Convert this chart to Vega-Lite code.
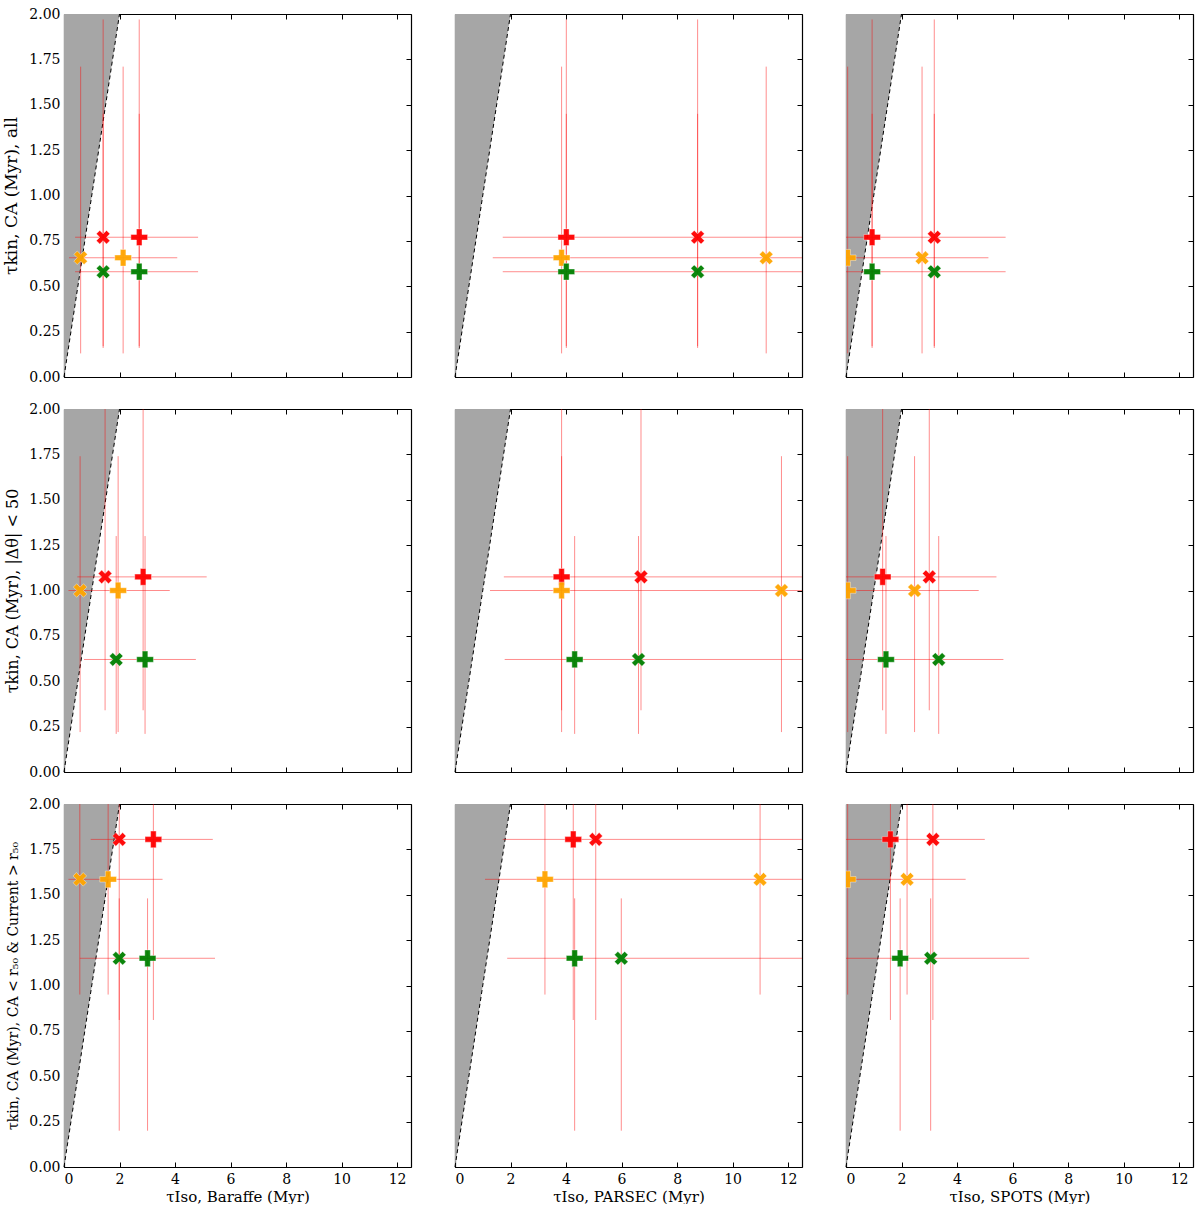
{
"$schema": "https://vega.github.io/schema/vega-lite/v6.json",
"background": "white",
"padding": {"left": 2, "top": 7, "right": 5, "bottom": 0},
"datasets": {
"diag": [{"x": 0, "y": 0, "top": 2}, {"x": 2, "y": 2, "top": 2}],
"pts": [
{"panel":1,"g":"red","m":"X","x":1.41,"y":0.77,"ylo":0.16,"yhi":1.97},
{"panel":1,"g":"red","m":"P","x":2.71,"y":0.77,"xlo":0.40,"xhi":4.83,"ylo":0.16,"yhi":1.97},
{"panel":1,"g":"orange","m":"X","x":0.60,"y":0.657,"ylo":0.13,"yhi":1.71},
{"panel":1,"g":"orange","m":"P","x":2.13,"y":0.657,"xlo":0.18,"xhi":4.08,"ylo":0.13,"yhi":1.71},
{"panel":1,"g":"green","m":"X","x":1.41,"y":0.58,"ylo":0.17,"yhi":1.45},
{"panel":1,"g":"green","m":"P","x":2.71,"y":0.58,"xlo":0.40,"xhi":4.83,"ylo":0.17,"yhi":1.45},
{"panel":2,"g":"red","m":"P","x":4.01,"y":0.77,"xlo":1.72,"xhi":14,"ylo":0.16,"yhi":1.97},
{"panel":2,"g":"red","m":"X","x":8.74,"y":0.77,"ylo":0.16,"yhi":1.97},
{"panel":2,"g":"orange","m":"P","x":3.84,"y":0.657,"xlo":1.36,"xhi":14,"ylo":0.13,"yhi":1.71},
{"panel":2,"g":"orange","m":"X","x":11.21,"y":0.657,"ylo":0.13,"yhi":1.71},
{"panel":2,"g":"green","m":"P","x":4.01,"y":0.58,"xlo":1.72,"xhi":14,"ylo":0.17,"yhi":1.45},
{"panel":2,"g":"green","m":"X","x":8.74,"y":0.58,"ylo":0.17,"yhi":1.45},
{"panel":3,"g":"red","m":"P","x":0.94,"y":0.77,"xlo":-1,"xhi":5.75,"ylo":0.16,"yhi":1.97},
{"panel":3,"g":"red","m":"X","x":3.18,"y":0.77,"ylo":0.16,"yhi":1.97},
{"panel":3,"g":"orange","m":"P","x":0.06,"y":0.657,"xlo":-1,"xhi":5.13,"ylo":0.13,"yhi":1.71},
{"panel":3,"g":"orange","m":"X","x":2.74,"y":0.657,"ylo":0.13,"yhi":1.71},
{"panel":3,"g":"green","m":"P","x":0.94,"y":0.58,"xlo":-1,"xhi":5.75,"ylo":0.17,"yhi":1.45},
{"panel":3,"g":"green","m":"X","x":3.18,"y":0.58,"ylo":0.17,"yhi":1.45},
{"panel":4,"g":"red","m":"X","x":1.48,"y":1.075,"ylo":0.34,"yhi":2.3},
{"panel":4,"g":"red","m":"P","x":2.85,"y":1.075,"xlo":0.48,"xhi":5.14,"ylo":0.34,"yhi":2.3},
{"panel":4,"g":"orange","m":"X","x":0.58,"y":1.0,"ylo":0.22,"yhi":1.74},
{"panel":4,"g":"orange","m":"P","x":1.95,"y":1.0,"xlo":0.16,"xhi":3.81,"ylo":0.22,"yhi":1.74},
{"panel":4,"g":"green","m":"X","x":1.88,"y":0.62,"ylo":0.21,"yhi":1.30},
{"panel":4,"g":"green","m":"P","x":2.92,"y":0.62,"xlo":0.72,"xhi":4.75,"ylo":0.21,"yhi":1.30},
{"panel":5,"g":"red","m":"P","x":3.84,"y":1.075,"xlo":1.76,"xhi":14,"ylo":0.34,"yhi":2.3},
{"panel":5,"g":"red","m":"X","x":6.70,"y":1.075,"ylo":0.34,"yhi":2.3},
{"panel":5,"g":"orange","m":"P","x":3.84,"y":1.0,"xlo":1.26,"xhi":14,"ylo":0.22,"yhi":1.74},
{"panel":5,"g":"orange","m":"X","x":11.76,"y":1.0,"ylo":0.22,"yhi":1.74},
{"panel":5,"g":"green","m":"P","x":4.31,"y":0.62,"xlo":1.79,"xhi":14,"ylo":0.21,"yhi":1.30},
{"panel":5,"g":"green","m":"X","x":6.61,"y":0.62,"ylo":0.21,"yhi":1.30},
{"panel":6,"g":"red","m":"P","x":1.32,"y":1.075,"xlo":-1,"xhi":5.42,"ylo":0.34,"yhi":2.3},
{"panel":6,"g":"red","m":"X","x":3.00,"y":1.075,"ylo":0.34,"yhi":2.3},
{"panel":6,"g":"orange","m":"P","x":0.06,"y":1.0,"xlo":-1,"xhi":4.78,"ylo":0.22,"yhi":1.74},
{"panel":6,"g":"orange","m":"X","x":2.47,"y":1.0,"ylo":0.22,"yhi":1.74},
{"panel":6,"g":"green","m":"P","x":1.44,"y":0.62,"xlo":-1,"xhi":5.67,"ylo":0.21,"yhi":1.30},
{"panel":6,"g":"green","m":"X","x":3.34,"y":0.62,"ylo":0.21,"yhi":1.30},
{"panel":7,"g":"red","m":"X","x":1.99,"y":1.805,"ylo":0.81,"yhi":2.3},
{"panel":7,"g":"red","m":"P","x":3.22,"y":1.805,"xlo":0.96,"xhi":5.36,"ylo":0.81,"yhi":2.3},
{"panel":7,"g":"orange","m":"X","x":0.57,"y":1.585,"ylo":0.95,"yhi":2.3},
{"panel":7,"g":"orange","m":"P","x":1.59,"y":1.585,"xlo":0.16,"xhi":3.55,"ylo":0.95,"yhi":2.3},
{"panel":7,"g":"green","m":"X","x":1.99,"y":1.15,"ylo":0.20,"yhi":1.48},
{"panel":7,"g":"green","m":"P","x":3.01,"y":1.15,"xlo":0.57,"xhi":5.44,"ylo":0.20,"yhi":1.48},
{"panel":8,"g":"red","m":"P","x":4.26,"y":1.805,"xlo":1.72,"xhi":14,"ylo":0.81,"yhi":2.3},
{"panel":8,"g":"red","m":"X","x":5.07,"y":1.805,"ylo":0.81,"yhi":2.3},
{"panel":8,"g":"orange","m":"P","x":3.24,"y":1.585,"xlo":1.08,"xhi":14,"ylo":0.95,"yhi":2.3},
{"panel":8,"g":"orange","m":"X","x":10.99,"y":1.585,"ylo":0.95,"yhi":2.3},
{"panel":8,"g":"green","m":"P","x":4.31,"y":1.15,"xlo":1.88,"xhi":14,"ylo":0.20,"yhi":1.48},
{"panel":8,"g":"green","m":"X","x":5.99,"y":1.15,"ylo":0.20,"yhi":1.48},
{"panel":9,"g":"red","m":"P","x":1.60,"y":1.805,"xlo":-1,"xhi":5.0,"ylo":0.81,"yhi":2.3},
{"panel":9,"g":"red","m":"X","x":3.13,"y":1.805,"ylo":0.81,"yhi":2.3},
{"panel":9,"g":"orange","m":"P","x":0.06,"y":1.585,"xlo":-1,"xhi":4.31,"ylo":0.95,"yhi":2.3},
{"panel":9,"g":"orange","m":"X","x":2.20,"y":1.585,"ylo":0.95,"yhi":2.3},
{"panel":9,"g":"green","m":"P","x":1.95,"y":1.15,"xlo":-1,"xhi":6.6,"ylo":0.20,"yhi":1.48},
{"panel":9,"g":"green","m":"X","x":3.05,"y":1.15,"ylo":0.20,"yhi":1.48}
]
},
"spacing": 18,
"vconcat": [
{"hconcat": [
{"width":347,"height":363,"layer":[
{"data":{"name":"diag"},"mark":{"type":"area","color":"#a6a6a6"},"encoding":{"x":{"field":"x","type":"quantitative","scale":{"domain":[0,12.5],"nice":false,"zero":false},"axis":{"orient":"bottom","values":[0,2,4,6,8,10,12],"labels":false,"title":null}},"y":{"field":"y","type":"quantitative","scale":{"domain":[0,2],"nice":false,"zero":false},"axis":{"orient":"left","values":[0,0.25,0.5,0.75,1,1.25,1.5,1.75,2],"format":".2f","title":"τkin, CA (Myr), all","titleFontSize":17}},"y2":{"field":"top"}}},
{"data":{"name":"diag"},"mark":{"type":"line","color":"black","strokeDash":[4,3],"strokeWidth":1},"encoding":{"x":{"field":"x","type":"quantitative","scale":{"domain":[0,12.5]},"axis":{"orient":"top","values":[0,2,4,6,8,10,12],"labels":false,"title":null}},"y":{"field":"y","type":"quantitative","scale":{"domain":[0,2]},"axis":{"orient":"right","values":[0,0.25,0.5,0.75,1,1.25,1.5,1.75,2],"labels":false,"title":null}}}},
{"data":{"name":"pts"},"transform":[{"filter":"datum.panel==1 && isValid(datum.xlo)"}],"mark":{"type":"rule","color":"red","opacity":0.45,"strokeWidth":1,"clip":true},"encoding":{"x":{"field":"xlo","type":"quantitative","scale":{"domain":[0,12.5]},"axis":null},"x2":{"field":"xhi"},"y":{"field":"y","type":"quantitative","scale":{"domain":[0,2]},"axis":null}}},
{"data":{"name":"pts"},"transform":[{"filter":"datum.panel==1"}],"mark":{"type":"rule","color":"red","opacity":0.45,"strokeWidth":1,"clip":true},"encoding":{"x":{"field":"x","type":"quantitative","scale":{"domain":[0,12.5]},"axis":null},"y":{"field":"ylo","type":"quantitative","scale":{"domain":[0,2]},"axis":null},"y2":{"field":"yhi"}}},
{"data":{"name":"pts"},"transform":[{"filter":"datum.panel==1"}],"mark":{"type":"point","filled":true,"clip":true,"opacity":0.95,"stroke":"white","strokeWidth":0.8,"strokeOpacity":0.5},"encoding":{"x":{"field":"x","type":"quantitative","scale":{"domain":[0,12.5]},"axis":null},"y":{"field":"y","type":"quantitative","scale":{"domain":[0,2]},"axis":null},"color":{"field":"g","type":"nominal","scale":{"domain":["red","orange","green"],"range":["#ff0000","#ffa500","#008000"]},"legend":null},"shape":{"field":"m","type":"nominal","scale":{"domain":["X","P"],"range":["M0.5,-1L0,-0.5L-0.5,-1L-1,-0.5L-0.5,0L-1,0.5L-0.5,1L0,0.5L0.5,1L1,0.5L0.5,0L1,-0.5Z","M-0.333,-1L0.333,-1L0.333,-0.333L1,-0.333L1,0.333L0.333,0.333L0.333,1L-0.333,1L-0.333,0.333L-1,0.333L-1,-0.333L-0.333,-0.333Z"]},"legend":null},"size":{"field":"m","type":"ordinal","scale":{"domain":["X","P"],"range":[185,280]},"legend":null}}}
],"resolve":{"axis":{"x":"independent","y":"independent"}}},
{"width":347,"height":363,"layer":[
{"data":{"name":"diag"},"mark":{"type":"area","color":"#a6a6a6"},"encoding":{"x":{"field":"x","type":"quantitative","scale":{"domain":[0,12.5],"nice":false,"zero":false},"axis":{"orient":"bottom","values":[0,2,4,6,8,10,12],"labels":false,"title":null}},"y":{"field":"y","type":"quantitative","scale":{"domain":[0,2],"nice":false,"zero":false},"axis":{"orient":"left","values":[0,0.25,0.5,0.75,1,1.25,1.5,1.75,2],"labels":false,"title":null}},"y2":{"field":"top"}}},
{"data":{"name":"diag"},"mark":{"type":"line","color":"black","strokeDash":[4,3],"strokeWidth":1},"encoding":{"x":{"field":"x","type":"quantitative","scale":{"domain":[0,12.5]},"axis":{"orient":"top","values":[0,2,4,6,8,10,12],"labels":false,"title":null}},"y":{"field":"y","type":"quantitative","scale":{"domain":[0,2]},"axis":{"orient":"right","values":[0,0.25,0.5,0.75,1,1.25,1.5,1.75,2],"labels":false,"title":null}}}},
{"data":{"name":"pts"},"transform":[{"filter":"datum.panel==2 && isValid(datum.xlo)"}],"mark":{"type":"rule","color":"red","opacity":0.45,"strokeWidth":1,"clip":true},"encoding":{"x":{"field":"xlo","type":"quantitative","scale":{"domain":[0,12.5]},"axis":null},"x2":{"field":"xhi"},"y":{"field":"y","type":"quantitative","scale":{"domain":[0,2]},"axis":null}}},
{"data":{"name":"pts"},"transform":[{"filter":"datum.panel==2"}],"mark":{"type":"rule","color":"red","opacity":0.45,"strokeWidth":1,"clip":true},"encoding":{"x":{"field":"x","type":"quantitative","scale":{"domain":[0,12.5]},"axis":null},"y":{"field":"ylo","type":"quantitative","scale":{"domain":[0,2]},"axis":null},"y2":{"field":"yhi"}}},
{"data":{"name":"pts"},"transform":[{"filter":"datum.panel==2"}],"mark":{"type":"point","filled":true,"clip":true,"opacity":0.95,"stroke":"white","strokeWidth":0.8,"strokeOpacity":0.5},"encoding":{"x":{"field":"x","type":"quantitative","scale":{"domain":[0,12.5]},"axis":null},"y":{"field":"y","type":"quantitative","scale":{"domain":[0,2]},"axis":null},"color":{"field":"g","type":"nominal","scale":{"domain":["red","orange","green"],"range":["#ff0000","#ffa500","#008000"]},"legend":null},"shape":{"field":"m","type":"nominal","scale":{"domain":["X","P"],"range":["M0.5,-1L0,-0.5L-0.5,-1L-1,-0.5L-0.5,0L-1,0.5L-0.5,1L0,0.5L0.5,1L1,0.5L0.5,0L1,-0.5Z","M-0.333,-1L0.333,-1L0.333,-0.333L1,-0.333L1,0.333L0.333,0.333L0.333,1L-0.333,1L-0.333,0.333L-1,0.333L-1,-0.333L-0.333,-0.333Z"]},"legend":null},"size":{"field":"m","type":"ordinal","scale":{"domain":["X","P"],"range":[185,280]},"legend":null}}}
],"resolve":{"axis":{"x":"independent","y":"independent"}}},
{"width":347,"height":363,"layer":[
{"data":{"name":"diag"},"mark":{"type":"area","color":"#a6a6a6"},"encoding":{"x":{"field":"x","type":"quantitative","scale":{"domain":[0,12.5],"nice":false,"zero":false},"axis":{"orient":"bottom","values":[0,2,4,6,8,10,12],"labels":false,"title":null}},"y":{"field":"y","type":"quantitative","scale":{"domain":[0,2],"nice":false,"zero":false},"axis":{"orient":"left","values":[0,0.25,0.5,0.75,1,1.25,1.5,1.75,2],"labels":false,"title":null}},"y2":{"field":"top"}}},
{"data":{"name":"diag"},"mark":{"type":"line","color":"black","strokeDash":[4,3],"strokeWidth":1},"encoding":{"x":{"field":"x","type":"quantitative","scale":{"domain":[0,12.5]},"axis":{"orient":"top","values":[0,2,4,6,8,10,12],"labels":false,"title":null}},"y":{"field":"y","type":"quantitative","scale":{"domain":[0,2]},"axis":{"orient":"right","values":[0,0.25,0.5,0.75,1,1.25,1.5,1.75,2],"labels":false,"title":null}}}},
{"data":{"name":"pts"},"transform":[{"filter":"datum.panel==3 && isValid(datum.xlo)"}],"mark":{"type":"rule","color":"red","opacity":0.45,"strokeWidth":1,"clip":true},"encoding":{"x":{"field":"xlo","type":"quantitative","scale":{"domain":[0,12.5]},"axis":null},"x2":{"field":"xhi"},"y":{"field":"y","type":"quantitative","scale":{"domain":[0,2]},"axis":null}}},
{"data":{"name":"pts"},"transform":[{"filter":"datum.panel==3"}],"mark":{"type":"rule","color":"red","opacity":0.45,"strokeWidth":1,"clip":true},"encoding":{"x":{"field":"x","type":"quantitative","scale":{"domain":[0,12.5]},"axis":null},"y":{"field":"ylo","type":"quantitative","scale":{"domain":[0,2]},"axis":null},"y2":{"field":"yhi"}}},
{"data":{"name":"pts"},"transform":[{"filter":"datum.panel==3"}],"mark":{"type":"point","filled":true,"clip":true,"opacity":0.95,"stroke":"white","strokeWidth":0.8,"strokeOpacity":0.5},"encoding":{"x":{"field":"x","type":"quantitative","scale":{"domain":[0,12.5]},"axis":null},"y":{"field":"y","type":"quantitative","scale":{"domain":[0,2]},"axis":null},"color":{"field":"g","type":"nominal","scale":{"domain":["red","orange","green"],"range":["#ff0000","#ffa500","#008000"]},"legend":null},"shape":{"field":"m","type":"nominal","scale":{"domain":["X","P"],"range":["M0.5,-1L0,-0.5L-0.5,-1L-1,-0.5L-0.5,0L-1,0.5L-0.5,1L0,0.5L0.5,1L1,0.5L0.5,0L1,-0.5Z","M-0.333,-1L0.333,-1L0.333,-0.333L1,-0.333L1,0.333L0.333,0.333L0.333,1L-0.333,1L-0.333,0.333L-1,0.333L-1,-0.333L-0.333,-0.333Z"]},"legend":null},"size":{"field":"m","type":"ordinal","scale":{"domain":["X","P"],"range":[185,280]},"legend":null}}}
],"resolve":{"axis":{"x":"independent","y":"independent"}}}
], "spacing": 41},
{"hconcat": [
{"width":347,"height":363,"layer":[
{"data":{"name":"diag"},"mark":{"type":"area","color":"#a6a6a6"},"encoding":{"x":{"field":"x","type":"quantitative","scale":{"domain":[0,12.5],"nice":false,"zero":false},"axis":{"orient":"bottom","values":[0,2,4,6,8,10,12],"labels":false,"title":null}},"y":{"field":"y","type":"quantitative","scale":{"domain":[0,2],"nice":false,"zero":false},"axis":{"orient":"left","values":[0,0.25,0.5,0.75,1,1.25,1.5,1.75,2],"format":".2f","title":"τkin, CA (Myr), |Δθ| < 50","titleFontSize":16}},"y2":{"field":"top"}}},
{"data":{"name":"diag"},"mark":{"type":"line","color":"black","strokeDash":[4,3],"strokeWidth":1},"encoding":{"x":{"field":"x","type":"quantitative","scale":{"domain":[0,12.5]},"axis":{"orient":"top","values":[0,2,4,6,8,10,12],"labels":false,"title":null}},"y":{"field":"y","type":"quantitative","scale":{"domain":[0,2]},"axis":{"orient":"right","values":[0,0.25,0.5,0.75,1,1.25,1.5,1.75,2],"labels":false,"title":null}}}},
{"data":{"name":"pts"},"transform":[{"filter":"datum.panel==4 && isValid(datum.xlo)"}],"mark":{"type":"rule","color":"red","opacity":0.45,"strokeWidth":1,"clip":true},"encoding":{"x":{"field":"xlo","type":"quantitative","scale":{"domain":[0,12.5]},"axis":null},"x2":{"field":"xhi"},"y":{"field":"y","type":"quantitative","scale":{"domain":[0,2]},"axis":null}}},
{"data":{"name":"pts"},"transform":[{"filter":"datum.panel==4"}],"mark":{"type":"rule","color":"red","opacity":0.45,"strokeWidth":1,"clip":true},"encoding":{"x":{"field":"x","type":"quantitative","scale":{"domain":[0,12.5]},"axis":null},"y":{"field":"ylo","type":"quantitative","scale":{"domain":[0,2]},"axis":null},"y2":{"field":"yhi"}}},
{"data":{"name":"pts"},"transform":[{"filter":"datum.panel==4"}],"mark":{"type":"point","filled":true,"clip":true,"opacity":0.95,"stroke":"white","strokeWidth":0.8,"strokeOpacity":0.5},"encoding":{"x":{"field":"x","type":"quantitative","scale":{"domain":[0,12.5]},"axis":null},"y":{"field":"y","type":"quantitative","scale":{"domain":[0,2]},"axis":null},"color":{"field":"g","type":"nominal","scale":{"domain":["red","orange","green"],"range":["#ff0000","#ffa500","#008000"]},"legend":null},"shape":{"field":"m","type":"nominal","scale":{"domain":["X","P"],"range":["M0.5,-1L0,-0.5L-0.5,-1L-1,-0.5L-0.5,0L-1,0.5L-0.5,1L0,0.5L0.5,1L1,0.5L0.5,0L1,-0.5Z","M-0.333,-1L0.333,-1L0.333,-0.333L1,-0.333L1,0.333L0.333,0.333L0.333,1L-0.333,1L-0.333,0.333L-1,0.333L-1,-0.333L-0.333,-0.333Z"]},"legend":null},"size":{"field":"m","type":"ordinal","scale":{"domain":["X","P"],"range":[185,280]},"legend":null}}}
],"resolve":{"axis":{"x":"independent","y":"independent"}}},
{"width":347,"height":363,"layer":[
{"data":{"name":"diag"},"mark":{"type":"area","color":"#a6a6a6"},"encoding":{"x":{"field":"x","type":"quantitative","scale":{"domain":[0,12.5],"nice":false,"zero":false},"axis":{"orient":"bottom","values":[0,2,4,6,8,10,12],"labels":false,"title":null}},"y":{"field":"y","type":"quantitative","scale":{"domain":[0,2],"nice":false,"zero":false},"axis":{"orient":"left","values":[0,0.25,0.5,0.75,1,1.25,1.5,1.75,2],"labels":false,"title":null}},"y2":{"field":"top"}}},
{"data":{"name":"diag"},"mark":{"type":"line","color":"black","strokeDash":[4,3],"strokeWidth":1},"encoding":{"x":{"field":"x","type":"quantitative","scale":{"domain":[0,12.5]},"axis":{"orient":"top","values":[0,2,4,6,8,10,12],"labels":false,"title":null}},"y":{"field":"y","type":"quantitative","scale":{"domain":[0,2]},"axis":{"orient":"right","values":[0,0.25,0.5,0.75,1,1.25,1.5,1.75,2],"labels":false,"title":null}}}},
{"data":{"name":"pts"},"transform":[{"filter":"datum.panel==5 && isValid(datum.xlo)"}],"mark":{"type":"rule","color":"red","opacity":0.45,"strokeWidth":1,"clip":true},"encoding":{"x":{"field":"xlo","type":"quantitative","scale":{"domain":[0,12.5]},"axis":null},"x2":{"field":"xhi"},"y":{"field":"y","type":"quantitative","scale":{"domain":[0,2]},"axis":null}}},
{"data":{"name":"pts"},"transform":[{"filter":"datum.panel==5"}],"mark":{"type":"rule","color":"red","opacity":0.45,"strokeWidth":1,"clip":true},"encoding":{"x":{"field":"x","type":"quantitative","scale":{"domain":[0,12.5]},"axis":null},"y":{"field":"ylo","type":"quantitative","scale":{"domain":[0,2]},"axis":null},"y2":{"field":"yhi"}}},
{"data":{"name":"pts"},"transform":[{"filter":"datum.panel==5"}],"mark":{"type":"point","filled":true,"clip":true,"opacity":0.95,"stroke":"white","strokeWidth":0.8,"strokeOpacity":0.5},"encoding":{"x":{"field":"x","type":"quantitative","scale":{"domain":[0,12.5]},"axis":null},"y":{"field":"y","type":"quantitative","scale":{"domain":[0,2]},"axis":null},"color":{"field":"g","type":"nominal","scale":{"domain":["red","orange","green"],"range":["#ff0000","#ffa500","#008000"]},"legend":null},"shape":{"field":"m","type":"nominal","scale":{"domain":["X","P"],"range":["M0.5,-1L0,-0.5L-0.5,-1L-1,-0.5L-0.5,0L-1,0.5L-0.5,1L0,0.5L0.5,1L1,0.5L0.5,0L1,-0.5Z","M-0.333,-1L0.333,-1L0.333,-0.333L1,-0.333L1,0.333L0.333,0.333L0.333,1L-0.333,1L-0.333,0.333L-1,0.333L-1,-0.333L-0.333,-0.333Z"]},"legend":null},"size":{"field":"m","type":"ordinal","scale":{"domain":["X","P"],"range":[185,280]},"legend":null}}}
],"resolve":{"axis":{"x":"independent","y":"independent"}}},
{"width":347,"height":363,"layer":[
{"data":{"name":"diag"},"mark":{"type":"area","color":"#a6a6a6"},"encoding":{"x":{"field":"x","type":"quantitative","scale":{"domain":[0,12.5],"nice":false,"zero":false},"axis":{"orient":"bottom","values":[0,2,4,6,8,10,12],"labels":false,"title":null}},"y":{"field":"y","type":"quantitative","scale":{"domain":[0,2],"nice":false,"zero":false},"axis":{"orient":"left","values":[0,0.25,0.5,0.75,1,1.25,1.5,1.75,2],"labels":false,"title":null}},"y2":{"field":"top"}}},
{"data":{"name":"diag"},"mark":{"type":"line","color":"black","strokeDash":[4,3],"strokeWidth":1},"encoding":{"x":{"field":"x","type":"quantitative","scale":{"domain":[0,12.5]},"axis":{"orient":"top","values":[0,2,4,6,8,10,12],"labels":false,"title":null}},"y":{"field":"y","type":"quantitative","scale":{"domain":[0,2]},"axis":{"orient":"right","values":[0,0.25,0.5,0.75,1,1.25,1.5,1.75,2],"labels":false,"title":null}}}},
{"data":{"name":"pts"},"transform":[{"filter":"datum.panel==6 && isValid(datum.xlo)"}],"mark":{"type":"rule","color":"red","opacity":0.45,"strokeWidth":1,"clip":true},"encoding":{"x":{"field":"xlo","type":"quantitative","scale":{"domain":[0,12.5]},"axis":null},"x2":{"field":"xhi"},"y":{"field":"y","type":"quantitative","scale":{"domain":[0,2]},"axis":null}}},
{"data":{"name":"pts"},"transform":[{"filter":"datum.panel==6"}],"mark":{"type":"rule","color":"red","opacity":0.45,"strokeWidth":1,"clip":true},"encoding":{"x":{"field":"x","type":"quantitative","scale":{"domain":[0,12.5]},"axis":null},"y":{"field":"ylo","type":"quantitative","scale":{"domain":[0,2]},"axis":null},"y2":{"field":"yhi"}}},
{"data":{"name":"pts"},"transform":[{"filter":"datum.panel==6"}],"mark":{"type":"point","filled":true,"clip":true,"opacity":0.95,"stroke":"white","strokeWidth":0.8,"strokeOpacity":0.5},"encoding":{"x":{"field":"x","type":"quantitative","scale":{"domain":[0,12.5]},"axis":null},"y":{"field":"y","type":"quantitative","scale":{"domain":[0,2]},"axis":null},"color":{"field":"g","type":"nominal","scale":{"domain":["red","orange","green"],"range":["#ff0000","#ffa500","#008000"]},"legend":null},"shape":{"field":"m","type":"nominal","scale":{"domain":["X","P"],"range":["M0.5,-1L0,-0.5L-0.5,-1L-1,-0.5L-0.5,0L-1,0.5L-0.5,1L0,0.5L0.5,1L1,0.5L0.5,0L1,-0.5Z","M-0.333,-1L0.333,-1L0.333,-0.333L1,-0.333L1,0.333L0.333,0.333L0.333,1L-0.333,1L-0.333,0.333L-1,0.333L-1,-0.333L-0.333,-0.333Z"]},"legend":null},"size":{"field":"m","type":"ordinal","scale":{"domain":["X","P"],"range":[185,280]},"legend":null}}}
],"resolve":{"axis":{"x":"independent","y":"independent"}}}
], "spacing": 41},
{"hconcat": [
{"width":347,"height":363,"layer":[
{"data":{"name":"diag"},"mark":{"type":"area","color":"#a6a6a6"},"encoding":{"x":{"field":"x","type":"quantitative","scale":{"domain":[0,12.5],"nice":false,"zero":false},"axis":{"orient":"bottom","values":[0,2,4,6,8,10,12],"format":"d","title":"τIso, Baraffe (Myr)"}},"y":{"field":"y","type":"quantitative","scale":{"domain":[0,2],"nice":false,"zero":false},"axis":{"orient":"left","values":[0,0.25,0.5,0.75,1,1.25,1.5,1.75,2],"format":".2f","title":"τkin, CA (Myr), CA < r₅₀ & Current > r₅₀","titleFontSize":14}},"y2":{"field":"top"}}},
{"data":{"name":"diag"},"mark":{"type":"line","color":"black","strokeDash":[4,3],"strokeWidth":1},"encoding":{"x":{"field":"x","type":"quantitative","scale":{"domain":[0,12.5]},"axis":{"orient":"top","values":[0,2,4,6,8,10,12],"labels":false,"title":null}},"y":{"field":"y","type":"quantitative","scale":{"domain":[0,2]},"axis":{"orient":"right","values":[0,0.25,0.5,0.75,1,1.25,1.5,1.75,2],"labels":false,"title":null}}}},
{"data":{"name":"pts"},"transform":[{"filter":"datum.panel==7 && isValid(datum.xlo)"}],"mark":{"type":"rule","color":"red","opacity":0.45,"strokeWidth":1,"clip":true},"encoding":{"x":{"field":"xlo","type":"quantitative","scale":{"domain":[0,12.5]},"axis":null},"x2":{"field":"xhi"},"y":{"field":"y","type":"quantitative","scale":{"domain":[0,2]},"axis":null}}},
{"data":{"name":"pts"},"transform":[{"filter":"datum.panel==7"}],"mark":{"type":"rule","color":"red","opacity":0.45,"strokeWidth":1,"clip":true},"encoding":{"x":{"field":"x","type":"quantitative","scale":{"domain":[0,12.5]},"axis":null},"y":{"field":"ylo","type":"quantitative","scale":{"domain":[0,2]},"axis":null},"y2":{"field":"yhi"}}},
{"data":{"name":"pts"},"transform":[{"filter":"datum.panel==7"}],"mark":{"type":"point","filled":true,"clip":true,"opacity":0.95,"stroke":"white","strokeWidth":0.8,"strokeOpacity":0.5},"encoding":{"x":{"field":"x","type":"quantitative","scale":{"domain":[0,12.5]},"axis":null},"y":{"field":"y","type":"quantitative","scale":{"domain":[0,2]},"axis":null},"color":{"field":"g","type":"nominal","scale":{"domain":["red","orange","green"],"range":["#ff0000","#ffa500","#008000"]},"legend":null},"shape":{"field":"m","type":"nominal","scale":{"domain":["X","P"],"range":["M0.5,-1L0,-0.5L-0.5,-1L-1,-0.5L-0.5,0L-1,0.5L-0.5,1L0,0.5L0.5,1L1,0.5L0.5,0L1,-0.5Z","M-0.333,-1L0.333,-1L0.333,-0.333L1,-0.333L1,0.333L0.333,0.333L0.333,1L-0.333,1L-0.333,0.333L-1,0.333L-1,-0.333L-0.333,-0.333Z"]},"legend":null},"size":{"field":"m","type":"ordinal","scale":{"domain":["X","P"],"range":[185,280]},"legend":null}}}
],"resolve":{"axis":{"x":"independent","y":"independent"}}},
{"width":347,"height":363,"layer":[
{"data":{"name":"diag"},"mark":{"type":"area","color":"#a6a6a6"},"encoding":{"x":{"field":"x","type":"quantitative","scale":{"domain":[0,12.5],"nice":false,"zero":false},"axis":{"orient":"bottom","values":[0,2,4,6,8,10,12],"format":"d","title":"τIso, PARSEC (Myr)"}},"y":{"field":"y","type":"quantitative","scale":{"domain":[0,2],"nice":false,"zero":false},"axis":{"orient":"left","values":[0,0.25,0.5,0.75,1,1.25,1.5,1.75,2],"labels":false,"title":null}},"y2":{"field":"top"}}},
{"data":{"name":"diag"},"mark":{"type":"line","color":"black","strokeDash":[4,3],"strokeWidth":1},"encoding":{"x":{"field":"x","type":"quantitative","scale":{"domain":[0,12.5]},"axis":{"orient":"top","values":[0,2,4,6,8,10,12],"labels":false,"title":null}},"y":{"field":"y","type":"quantitative","scale":{"domain":[0,2]},"axis":{"orient":"right","values":[0,0.25,0.5,0.75,1,1.25,1.5,1.75,2],"labels":false,"title":null}}}},
{"data":{"name":"pts"},"transform":[{"filter":"datum.panel==8 && isValid(datum.xlo)"}],"mark":{"type":"rule","color":"red","opacity":0.45,"strokeWidth":1,"clip":true},"encoding":{"x":{"field":"xlo","type":"quantitative","scale":{"domain":[0,12.5]},"axis":null},"x2":{"field":"xhi"},"y":{"field":"y","type":"quantitative","scale":{"domain":[0,2]},"axis":null}}},
{"data":{"name":"pts"},"transform":[{"filter":"datum.panel==8"}],"mark":{"type":"rule","color":"red","opacity":0.45,"strokeWidth":1,"clip":true},"encoding":{"x":{"field":"x","type":"quantitative","scale":{"domain":[0,12.5]},"axis":null},"y":{"field":"ylo","type":"quantitative","scale":{"domain":[0,2]},"axis":null},"y2":{"field":"yhi"}}},
{"data":{"name":"pts"},"transform":[{"filter":"datum.panel==8"}],"mark":{"type":"point","filled":true,"clip":true,"opacity":0.95,"stroke":"white","strokeWidth":0.8,"strokeOpacity":0.5},"encoding":{"x":{"field":"x","type":"quantitative","scale":{"domain":[0,12.5]},"axis":null},"y":{"field":"y","type":"quantitative","scale":{"domain":[0,2]},"axis":null},"color":{"field":"g","type":"nominal","scale":{"domain":["red","orange","green"],"range":["#ff0000","#ffa500","#008000"]},"legend":null},"shape":{"field":"m","type":"nominal","scale":{"domain":["X","P"],"range":["M0.5,-1L0,-0.5L-0.5,-1L-1,-0.5L-0.5,0L-1,0.5L-0.5,1L0,0.5L0.5,1L1,0.5L0.5,0L1,-0.5Z","M-0.333,-1L0.333,-1L0.333,-0.333L1,-0.333L1,0.333L0.333,0.333L0.333,1L-0.333,1L-0.333,0.333L-1,0.333L-1,-0.333L-0.333,-0.333Z"]},"legend":null},"size":{"field":"m","type":"ordinal","scale":{"domain":["X","P"],"range":[185,280]},"legend":null}}}
],"resolve":{"axis":{"x":"independent","y":"independent"}}},
{"width":347,"height":363,"layer":[
{"data":{"name":"diag"},"mark":{"type":"area","color":"#a6a6a6"},"encoding":{"x":{"field":"x","type":"quantitative","scale":{"domain":[0,12.5],"nice":false,"zero":false},"axis":{"orient":"bottom","values":[0,2,4,6,8,10,12],"format":"d","title":"τIso, SPOTS (Myr)"}},"y":{"field":"y","type":"quantitative","scale":{"domain":[0,2],"nice":false,"zero":false},"axis":{"orient":"left","values":[0,0.25,0.5,0.75,1,1.25,1.5,1.75,2],"labels":false,"title":null}},"y2":{"field":"top"}}},
{"data":{"name":"diag"},"mark":{"type":"line","color":"black","strokeDash":[4,3],"strokeWidth":1},"encoding":{"x":{"field":"x","type":"quantitative","scale":{"domain":[0,12.5]},"axis":{"orient":"top","values":[0,2,4,6,8,10,12],"labels":false,"title":null}},"y":{"field":"y","type":"quantitative","scale":{"domain":[0,2]},"axis":{"orient":"right","values":[0,0.25,0.5,0.75,1,1.25,1.5,1.75,2],"labels":false,"title":null}}}},
{"data":{"name":"pts"},"transform":[{"filter":"datum.panel==9 && isValid(datum.xlo)"}],"mark":{"type":"rule","color":"red","opacity":0.45,"strokeWidth":1,"clip":true},"encoding":{"x":{"field":"xlo","type":"quantitative","scale":{"domain":[0,12.5]},"axis":null},"x2":{"field":"xhi"},"y":{"field":"y","type":"quantitative","scale":{"domain":[0,2]},"axis":null}}},
{"data":{"name":"pts"},"transform":[{"filter":"datum.panel==9"}],"mark":{"type":"rule","color":"red","opacity":0.45,"strokeWidth":1,"clip":true},"encoding":{"x":{"field":"x","type":"quantitative","scale":{"domain":[0,12.5]},"axis":null},"y":{"field":"ylo","type":"quantitative","scale":{"domain":[0,2]},"axis":null},"y2":{"field":"yhi"}}},
{"data":{"name":"pts"},"transform":[{"filter":"datum.panel==9"}],"mark":{"type":"point","filled":true,"clip":true,"opacity":0.95,"stroke":"white","strokeWidth":0.8,"strokeOpacity":0.5},"encoding":{"x":{"field":"x","type":"quantitative","scale":{"domain":[0,12.5]},"axis":null},"y":{"field":"y","type":"quantitative","scale":{"domain":[0,2]},"axis":null},"color":{"field":"g","type":"nominal","scale":{"domain":["red","orange","green"],"range":["#ff0000","#ffa500","#008000"]},"legend":null},"shape":{"field":"m","type":"nominal","scale":{"domain":["X","P"],"range":["M0.5,-1L0,-0.5L-0.5,-1L-1,-0.5L-0.5,0L-1,0.5L-0.5,1L0,0.5L0.5,1L1,0.5L0.5,0L1,-0.5Z","M-0.333,-1L0.333,-1L0.333,-0.333L1,-0.333L1,0.333L0.333,0.333L0.333,1L-0.333,1L-0.333,0.333L-1,0.333L-1,-0.333L-0.333,-0.333Z"]},"legend":null},"size":{"field":"m","type":"ordinal","scale":{"domain":["X","P"],"range":[185,280]},"legend":null}}}
],"resolve":{"axis":{"x":"independent","y":"independent"}}}
], "spacing": 41}
],
"config": {
"view": {"stroke": null},
"axis": {"grid": false, "tickSize": -5, "tickColor": "black", "tickWidth": 1, "domainColor": "black", "domainWidth": 1.2, "labelFont": "DejaVu Serif", "labelFontSize": 14, "labelColor": "black", "labelPadding": 9, "titleFont": "DejaVu Serif", "titleFontSize": 15, "titleFontWeight": "normal", "titleColor": "black", "titlePadding": 8},
"axisBottom": {"titlePadding": 3, "labelPadding": 10}
}
}
